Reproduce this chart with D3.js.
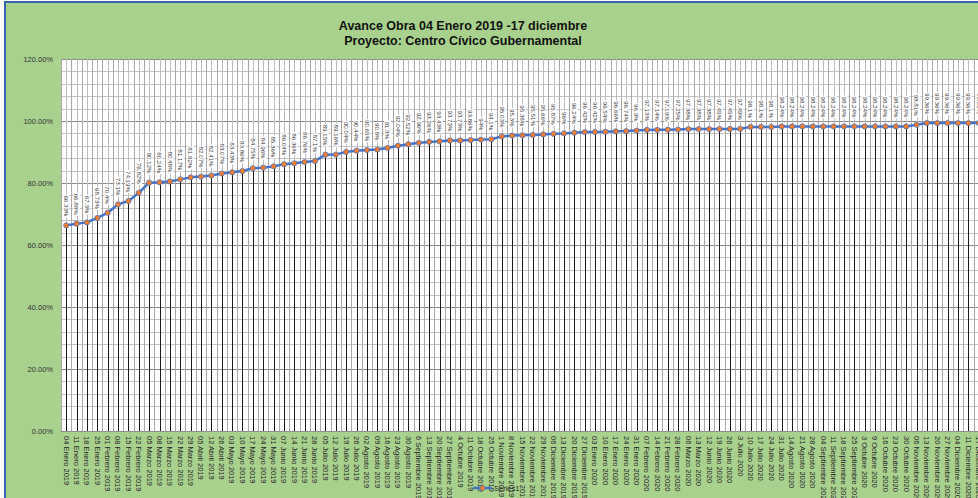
<!DOCTYPE html>
<html>
<head>
<meta charset="utf-8">
<script src="https://cdn.jsdelivr.net/npm/d3@7"></script>
<style>
  body { margin: 0; background: #fff; }
  svg { display: block; font-family: "Liberation Sans", Arial, sans-serif; }
</style>
</head>
<body>
<svg id="chart" width="978" height="498"></svg>
<script>
// weekly report dates (x categories)
const fechas = [
  "04 Enero 2019", "11 Enero 2019", "18 Enero 2019", "25 Enero 2019", "01 Febrero 2019",
  "08 Febrero 2019", "15 Febrero 2019", "22 Febrero 2019", "05 Marzo 2019", "08 Marzo 2019",
  "15 Marzo 2019", "22 Marzo 2019", "29 Marzo 2019", "05 Abril 2019", "12 Abril 2019",
  "26 Abril 2019", "03 Mayo 2019", "10 Mayo 2019", "17 Mayo 2019", "24 Mayo 2019",
  "31 Mayo 2019", "07 Junio 2019", "14 Junio 2019", "21 Junio 2019", "28 Junio 2019",
  "05 Julio 2019", "12 Julio 2019", "19 Julio 2019", "26 Julio 2019", "02 Agosto 2019",
  "09 Agosto 2019", "16 Agosto 2019", "23 Agosto 2019", "30 Agosto 2019", "6 Septiembre 2019",
  "13 Septiembre 2019", "20 Septiembre 2019", "27 Septiembre 2019", "4 Octubre 2019", "11 Octubre 2019",
  "18 Octubre 2019", "25 Octubre 2019", "1 Noviembre 2019", "8 Noviembre 2019", "15 Noviembre 2019",
  "22 Noviembre 2019", "29 Noviembre 2019", "06 Diciembre 2019", "13 Diciembre 2019", "20 Diciembre 2019",
  "27 Diciembre 2019", "03 Enero 2020", "10 Enero 2020", "17 Enero 2020", "24 Enero 2020",
  "31 Enero 2020", "07 Febrero 2020", "14 Febrero 2020", "21 Febrero 2020", "28 Febrero 2020",
  "06 Marzo 2020", "13 Marzo 2020", "12 Junio 2020", "19 Junio 2020", "26 Junio 2020",
  "3 Julio 2020", "10 Julio 2020", "17 Julio 2020", "24 Julio 2020", "31 Julio 2020",
  "14 Agosto 2020", "21 Agosto 2020", "28 Agosto 2020", "04 Septiembre 2020", "11 Septiembre 2020",
  "18 Septiembre 2020", "25 Septiembre 2020", "3 Octubre 2020", "9 Octubre 2020", "16 Octubre 2020",
  "23 Octubre 2020", "30 Octubre 2020", "06 Noviembre 2020", "13 Noviembre 2020", "20 Noviembre 2020",
  "27 Noviembre 2020", "04 Diciembre 2020", "11 Diciembre 2020", "17 Diciembre 2020"
];

// Series1: cumulative progress, in percent
const avance = [
  66.33, 66.88, 67.3, 68.73, 70.40, 73.1, 74.19, 76.82, 80.12, 80.24,
  80.48, 81.17, 81.82, 82.07, 82.41, 83.07, 83.43, 83.86, 84.75, 84.96,
  85.36, 86.04, 86.36, 86.76, 87.10, 89.15, 89.16, 90.04, 90.44, 90.65,
  90.80, 91.30, 92.04, 92.52, 92.96, 93.26, 93.43, 93.73, 93.73, 93.86,
  94.00, 94.1, 95.03, 95.30, 95.38, 95.51, 95.66, 95.87, 96, 96.24,
  96.42, 96.42, 96.54, 96.66, 96.74, 96.9, 97.13, 97.14, 97.19, 97.25,
  97.38, 97.38, 97.38, 97.45, 97.45, 97.49, 98.1, 98.1, 98.1, 98.24,
  98.24, 98.24, 98.24, 98.24, 98.24, 98.24, 98.24, 98.24, 98.24, 98.24,
  98.24, 98.24, 98.81, 99.36, 99.36, 99.36, 99.36, 99.36, 99.36
];

const yTicks = [0, 20, 40, 60, 80, 100, 120];
const titulo = ["Avance Obra 04 Enero 2019 -17 diciembre", "Proyecto: Centro Cívico Gubernamental"];
const serie = "Series1";

const svg = d3.select("#chart");
const W = 978, H = 498;
const plotLeft = 61, plotTop = 59, plotBottom = 431;
const step = 10.37;
const plotRight = plotLeft + step * fechas.length;

// chart area background + frame
svg.append("rect").attr("x", 5).attr("y", 2).attr("width", W).attr("height", H)
  .attr("fill", "#a9d18e").attr("stroke", "#3a64b0").attr("stroke-width", 2);

const x = d3.scaleBand().domain(fechas).range([plotLeft, plotRight]).padding(0);
const y = d3.scaleLinear().domain([0, 120]).range([plotBottom, plotTop]);
const cx = d => x(d) + x.bandwidth() / 2;

// plot area
svg.append("rect").attr("x", plotLeft).attr("y", plotTop)
  .attr("width", plotRight - plotLeft).attr("height", plotBottom - plotTop).attr("fill", "#fff");

const grid = svg.append("g");
// minor horizontal grid every 4%
grid.selectAll(".hmin").data(d3.range(0, 121, 4)).join("line")
  .attr("x1", plotLeft).attr("x2", plotRight)
  .attr("y1", d => Math.round(y(d)) + 0.5).attr("y2", d => Math.round(y(d)) + 0.5)
  .attr("stroke", d => d % 20 === 0 ? "#8c8c8c" : "#c4c4c4").attr("stroke-width", 1);
// vertical grid at category boundaries and centers
grid.selectAll(".vb").data(fechas).join("line")
  .attr("x1", d => Math.round(x(d)) + 0.5).attr("x2", d => Math.round(x(d)) + 0.5)
  .attr("y1", plotTop).attr("y2", plotBottom).attr("stroke", "#a8a8a8");
grid.selectAll(".vc").data(fechas).join("line")
  .attr("x1", d => Math.round(cx(d)) + 0.5).attr("x2", d => Math.round(cx(d)) + 0.5)
  .attr("y1", plotTop).attr("y2", plotBottom).attr("stroke", "#bdbdbd");

const pts = fechas.map((f, i) => ({ f, v: avance[i] }));

// drop lines
svg.append("g").selectAll("line").data(pts).join("line")
  .attr("x1", d => Math.round(cx(d.f)) + 0.5).attr("x2", d => Math.round(cx(d.f)) + 0.5)
  .attr("y1", d => y(d.v)).attr("y2", plotBottom)
  .attr("stroke", "#1a1a1a").attr("stroke-width", 1);

// y axis
const yAxis = svg.append("g").attr("transform", `translate(${plotLeft},0)`)
  .call(d3.axisLeft(y).tickValues(yTicks).tickSize(0).tickPadding(8)
    .tickFormat(d => d.toFixed(2) + "%"));
yAxis.select(".domain").remove();
yAxis.selectAll("text").attr("font-size", "7.5px").attr("fill", "#333")
  .attr("font-family", "Liberation Sans, Arial, sans-serif");

// x axis
const xAxis = svg.append("g").attr("transform", `translate(0,${plotBottom})`)
  .call(d3.axisBottom(x).tickSize(0));
xAxis.select(".domain").attr("stroke", "#8c8c8c");
xAxis.selectAll("text")
  .attr("font-size", "7.5px").attr("fill", "#262626")
  .attr("font-family", "Liberation Sans, Arial, sans-serif")
  .attr("text-anchor", "start")
  .attr("transform", "rotate(90)")
  .attr("x", 5).attr("y", 0).attr("dy", "0.35em");

// series line + markers
svg.append("path").datum(pts)
  .attr("fill", "none").attr("stroke", "#4472c4").attr("stroke-width", 2.5)
  .attr("stroke-linejoin", "round")
  .attr("d", d3.line().x(d => cx(d.f)).y(d => y(d.v)));

svg.append("g").selectAll("circle").data(pts).join("circle")
  .attr("cx", d => cx(d.f)).attr("cy", d => y(d.v)).attr("r", 2.6)
  .attr("fill", "#ed7d31").attr("stroke", "#4472c4").attr("stroke-width", 0.7);

// data labels (rotated, reading downward)
const lab = svg.append("g").selectAll("g").data(pts).join("g")
  .attr("transform", d => `translate(${cx(d.f)},${y(d.v) - 9}) rotate(90)`);
lab.append("rect").attr("fill", "#fff");
lab.append("text")
  .attr("text-anchor", "end").attr("dy", "0.35em")
  .attr("font-size", "6.2px").attr("fill", "#404040")
  .text(d => d.v + "%");
lab.each(function () {
  const t = d3.select(this).select("text");
  const w = t.node().getComputedTextLength();
  d3.select(this).select("rect").attr("x", -w - 1).attr("y", -3.5).attr("width", w + 2).attr("height", 7);
});

// title
svg.append("g").selectAll("text").data(titulo).join("text")
  .attr("x", 463).attr("y", (d, i) => 30 + i * 15)
  .attr("text-anchor", "middle").attr("font-weight", "bold")
  .attr("font-size", "12.5px").attr("fill", "#111")
  .text(d => d);

// legend
const lg = svg.append("g").attr("transform", "translate(473,488)");
lg.append("line").attr("x1", 0).attr("x2", 19).attr("stroke", "#4472c4").attr("stroke-width", 2.5);
lg.append("circle").attr("cx", 9.5).attr("r", 2.6).attr("fill", "#ed7d31")
  .attr("stroke", "#4472c4").attr("stroke-width", 0.7);
lg.append("text").attr("x", 21).attr("dy", "0.35em").attr("font-size", "7.5px")
  .attr("fill", "#262626").text(serie);
</script>
</body>
</html>
